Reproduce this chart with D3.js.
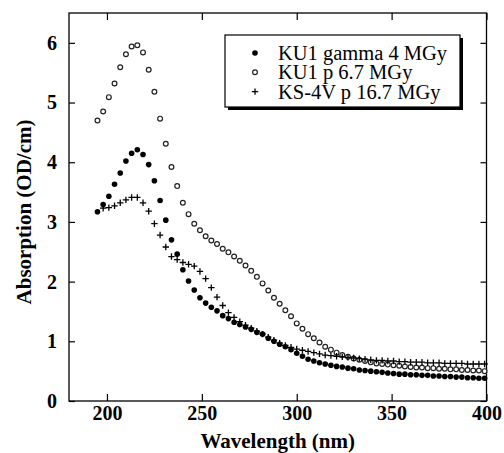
<!DOCTYPE html>
<html>
<head>
<meta charset="utf-8">
<script src="https://cdn.jsdelivr.net/npm/d3@7/dist/d3.min.js"></script>
<style>
  body { margin: 0; background: #fff; }
  svg text { font-family: "Liberation Serif", "Times New Roman", Times, serif; fill: #000; }
  .axis line { stroke: #000; stroke-width: 1.2; }
</style>
</head>
<body>
<div id="graph"></div>
<script>
// wavelength (nm) of each sample
var wavelength = [195, 198, 201, 204, 207, 210, 213, 216, 219, 222, 225, 228, 231, 234, 237, 240,
    243, 246, 249, 252, 255, 258, 261, 264, 267, 270, 273, 276, 279, 282, 285, 288, 291, 294, 297,
    300, 303, 306, 309, 312, 315, 318, 321, 324, 327, 330, 333, 336, 339, 342, 345, 348, 351, 354,
    357, 360, 363, 366, 369, 372, 375, 378, 381, 384, 387, 390, 393, 396, 399];

// KU1 gamma 4 MGy (filled dots)
var kuGamma = [3.17, 3.29, 3.43, 3.63, 3.82, 4.02, 4.15, 4.21, 4.13, 3.96, 3.69, 3.36, 3.03, 2.70,
    2.46, 2.20, 2.01, 1.86, 1.73, 1.64, 1.57, 1.51, 1.43, 1.38, 1.32, 1.28, 1.24, 1.20, 1.15, 1.12,
    1.05, 1.00, 0.95, 0.91, 0.86, 0.80, 0.75, 0.70, 0.67, 0.64, 0.62, 0.60, 0.58, 0.57, 0.55, 0.54,
    0.52, 0.51, 0.50, 0.49, 0.48, 0.47, 0.46, 0.45, 0.45, 0.44, 0.44, 0.43, 0.43, 0.42, 0.42, 0.41,
    0.41, 0.40, 0.40, 0.39, 0.39, 0.38, 0.38];

// KU1 p 6.7 MGy (open circles)
var kuProton = [4.70, 4.85, 5.09, 5.32, 5.59, 5.81, 5.94, 5.96, 5.84, 5.55, 5.18, 4.73, 4.31, 3.92,
    3.60, 3.32, 3.13, 2.97, 2.86, 2.76, 2.69, 2.63, 2.55, 2.49, 2.42, 2.35, 2.27, 2.18, 2.08, 1.97,
    1.85, 1.73, 1.63, 1.52, 1.42, 1.30, 1.21, 1.12, 1.05, 0.98, 0.91, 0.86, 0.81, 0.77, 0.74, 0.71,
    0.69, 0.67, 0.65, 0.63, 0.62, 0.61, 0.60, 0.59, 0.58, 0.57, 0.56, 0.56, 0.55, 0.55, 0.54, 0.54,
    0.53, 0.53, 0.52, 0.52, 0.51, 0.51, 0.50];

// KS-4V p 16.7 MGy (crosses), no sample at 195 nm
var ksProton = [null, 3.23, 3.24, 3.27, 3.32, 3.37, 3.41, 3.41, 3.32, 3.18, 2.97, 2.78, 2.58, 2.42,
    2.37, 2.32, 2.29, 2.26, 2.17, 2.05, 1.90, 1.74, 1.60, 1.48, 1.40, 1.33, 1.27, 1.22, 1.17, 1.12,
    1.07, 1.02, 0.97, 0.93, 0.90, 0.87, 0.85, 0.83, 0.81, 0.79, 0.77, 0.76, 0.75, 0.74, 0.73, 0.72,
    0.71, 0.70, 0.69, 0.68, 0.68, 0.67, 0.67, 0.66, 0.66, 0.65, 0.65, 0.65, 0.64, 0.64, 0.64, 0.63,
    0.63, 0.63, 0.63, 0.62, 0.62, 0.62, 0.62];

var seriesNames = ["KU1 gamma 4 MGy", "KU1 p 6.7 MGy", "KS-4V p 16.7 MGy"];
var xTicks = [200, 250, 300, 350, 400];
var yTicks = [0, 1, 2, 3, 4, 5, 6];

var serif = "'Liberation Serif', 'Times New Roman', Times, serif";

var margin = {top: 13, right: 17.5, bottom: 52, left: 69},
    width = 504 - margin.left - margin.right,
    height = 453 - margin.top - margin.bottom;

var x = d3.scaleLinear().domain([180, 400]).range([0, width]);
var y = d3.scaleLinear().domain([0, 6.5]).range([height, 0]);

var svg = d3.select("#graph").append("svg")
    .attr("width", 504)
    .attr("height", 453);

var focus = svg.append("g")
    .attr("transform", "translate(" + margin.left + "," + margin.top + ")");

// axes with inward ticks on all four sides
focus.append("g").attr("class", "axis")
    .attr("transform", "translate(0," + height + ")")
    .call(d3.axisBottom(x).tickValues(xTicks).tickSize(-7).tickPadding(5).tickFormat(d3.format("d")));
focus.append("g").attr("class", "axis")
    .call(d3.axisTop(x).tickValues(xTicks).tickSize(-7).tickFormat(""));
focus.append("g").attr("class", "axis")
    .call(d3.axisLeft(y).tickValues(yTicks).tickSize(-6).tickPadding(12).tickFormat(d3.format("d")));
focus.append("g").attr("class", "axis")
    .attr("transform", "translate(" + width + ",0)")
    .call(d3.axisRight(y).tickValues(yTicks).tickSize(-6).tickFormat(""));
focus.selectAll(".axis .domain").remove();
focus.selectAll(".axis")
    .attr("font-family", serif)
    .attr("font-size", 20)
    .attr("font-weight", "bold");
focus.selectAll(".axis text")
    .style("font-family", serif)
    .style("font-weight", "bold")
    .style("font-size", "20px");

focus.append("rect")
    .attr("width", width)
    .attr("height", height)
    .attr("fill", "none")
    .attr("stroke", "#000")
    .attr("stroke-width", 1.3);

// build points from the arrays
function points(vals) {
    return wavelength.map(function(w, i) { return {w: w, v: vals[i]}; })
        .filter(function(d) { return d.v != null; });
}

var cross = "M-3.2,0H3.2M0,-3.2V3.2";

focus.append("g").selectAll("circle")
    .data(points(kuProton))
    .enter().append("circle")
    .attr("r", 2.4)
    .attr("fill", "#fff")
    .attr("stroke", "#222")
    .attr("stroke-width", 1.2)
    .attr("cx", function(d) { return x(d.w); })
    .attr("cy", function(d) { return y(d.v); });

focus.append("g").selectAll("path")
    .data(points(ksProton))
    .enter().append("path")
    .attr("d", cross)
    .attr("stroke", "#000")
    .attr("stroke-width", 1.3)
    .attr("transform", function(d) { return "translate(" + x(d.w) + "," + y(d.v) + ")"; });

focus.append("g").selectAll("circle")
    .data(points(kuGamma))
    .enter().append("circle")
    .attr("r", 2.8)
    .attr("fill", "#000")
    .attr("cx", function(d) { return x(d.w); })
    .attr("cy", function(d) { return y(d.v); });

// axis titles
svg.append("text")
    .attr("x", margin.left + width / 2)
    .attr("y", 448)
    .attr("text-anchor", "middle")
    .style("font-family", serif)
    .style("font-weight", "bold")
    .style("font-size", "21px")
    .text("Wavelength (nm)");

svg.append("text")
    .attr("transform", "translate(31," + (margin.top + height / 2 + 5) + ") rotate(-90)")
    .attr("text-anchor", "middle")
    .style("font-family", serif)
    .style("font-weight", "bold")
    .style("font-size", "21px")
    .text("Absorption (OD/cm)");

// legend box with drop shadow
var legend = svg.append("g").attr("transform", "translate(225,35)");
legend.append("rect")
    .attr("x", 3).attr("y", 3)
    .attr("width", 235).attr("height", 72)
    .attr("fill", "#000");
legend.append("rect")
    .attr("width", 235).attr("height", 72)
    .attr("fill", "#fff")
    .attr("stroke", "#000")
    .attr("stroke-width", 1.2);

var rows = legend.selectAll(".row")
    .data(seriesNames)
    .enter().append("g")
    .attr("class", "row")
    .attr("transform", function(d, i) { return "translate(0," + (18 + i * 19.3) + ")"; });

rows.append("text")
    .attr("x", 53)
    .attr("y", 7)
    .style("font-family", serif)
    .style("font-size", "20.5px")
    .text(function(d) { return d; });

rows.each(function(d, i) {
    var g = d3.select(this);
    if (i == 0) {
        g.append("circle").attr("cx", 30).attr("r", 2.8).attr("fill", "#000");
    } else if (i == 1) {
        g.append("circle").attr("cx", 30).attr("r", 2.4)
            .attr("fill", "#fff").attr("stroke", "#222").attr("stroke-width", 1.2);
    } else {
        g.append("path").attr("d", cross).attr("transform", "translate(30,0)")
            .attr("stroke", "#000").attr("stroke-width", 1.3);
    }
});
</script>
</body>
</html>
